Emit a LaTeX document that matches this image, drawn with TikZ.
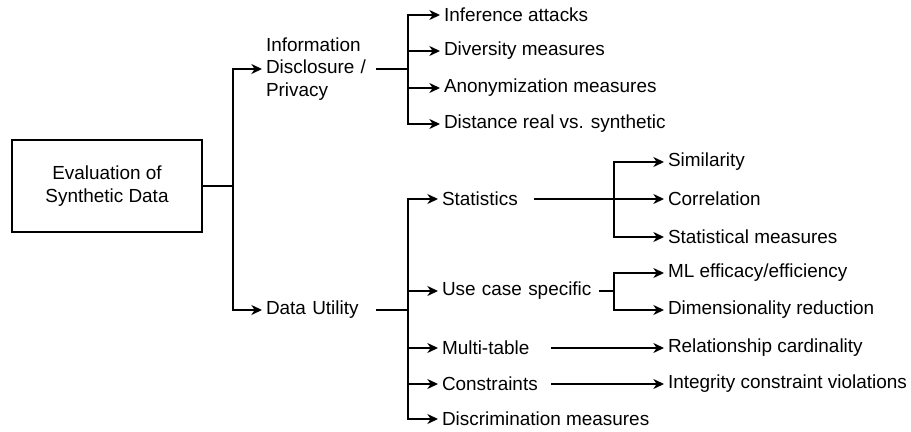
\documentclass[tikz,border=0pt]{standalone}
\usepackage{fontspec}
\setmainfont{Liberation Sans}
\usetikzlibrary{arrows.meta}
\usetikzlibrary{calc}

\begin{document}
\begin{tikzpicture}[x=0.75pt,y=-0.75pt,
 every node/.style={font=\fontsize{14.2}{17}\selectfont, inner xsep=3pt, inner ysep=1pt, outer sep=0pt},
 arr/.style={line width=1.1pt, -{Stealth[length=8pt,width=7.5pt,inset=2.5pt]}},
 leaf/.style={anchor=west, align=left}]
\useasboundingbox (0,0) rectangle (911,432);

\node[draw, line width=1.1pt, minimum width=142.5pt, minimum height=69pt, align=center] (root) at (107,186) {Evaluation of\\Synthetic Data};

% first level
\node[leaf, text width=79.5pt] (info) at (262,69) {Information\\Disclosure /\\Privacy};
\node[leaf, text width=79.5pt] (util) at (262,310) {Data Utility};
\draw[arr] (root.east) -- ++(31,0) |- (info.west);
\draw[arr] (root.east) -- ++(31,0) |- (util.west);

% privacy
\foreach \n/\y/\txt in {inf/15/Inference attacks, div/51/Diversity measures, anon/88/Anonymization measures, dist/124/Distance real vs. synthetic}{
 \node[leaf] (\n) at (440,\y) {\txt};
 \draw[arr] (info.east) -- ++(32,0) |- (\n.west);
}

% utility
\node[leaf, text width=66pt] (stat) at (438,199) {Statistics};
\node[leaf, text width=114.75pt] (use) at (438,291) {Use case specific};
\node[leaf, text width=78.75pt] (multi) at (438,348) {Multi-table};
\node[leaf, text width=78.75pt] (constr) at (438,384) {Constraints};
\node[leaf] (disc) at (438,419) {Discrimination measures};
\foreach \n in {stat,use,multi,constr,disc}
 \draw[arr] (util.east) -- ++(32,0) |- (\n.west);

% third level
\foreach \n/\y/\txt in {sim/162/Similarity, corr/199/Correlation, statm/237/Statistical measures}{
 \node[leaf] (\n) at (664,\y) {\txt};
 \draw[arr] (stat.east) -- ++(80,0) |- (\n.west);
}
\foreach \n/\y/\txt in {ml/273/{ML efficacy/efficiency}, dim/310/{Dimensionality reduction}}{
 \node[leaf] (\n) at (664,\y) {\txt};
 \draw[arr] (use.east) -- ++(15,0) |- (\n.west);
}
\node[leaf] (rel) at (664,348) {Relationship cardinality};
\node[leaf] (integ) at (664,384) {Integrity constraint violations};
\draw[arr] (multi.east) -- (rel.west);
\draw[arr] (constr.east) -- (integ.west);
\end{tikzpicture}
\end{document}
